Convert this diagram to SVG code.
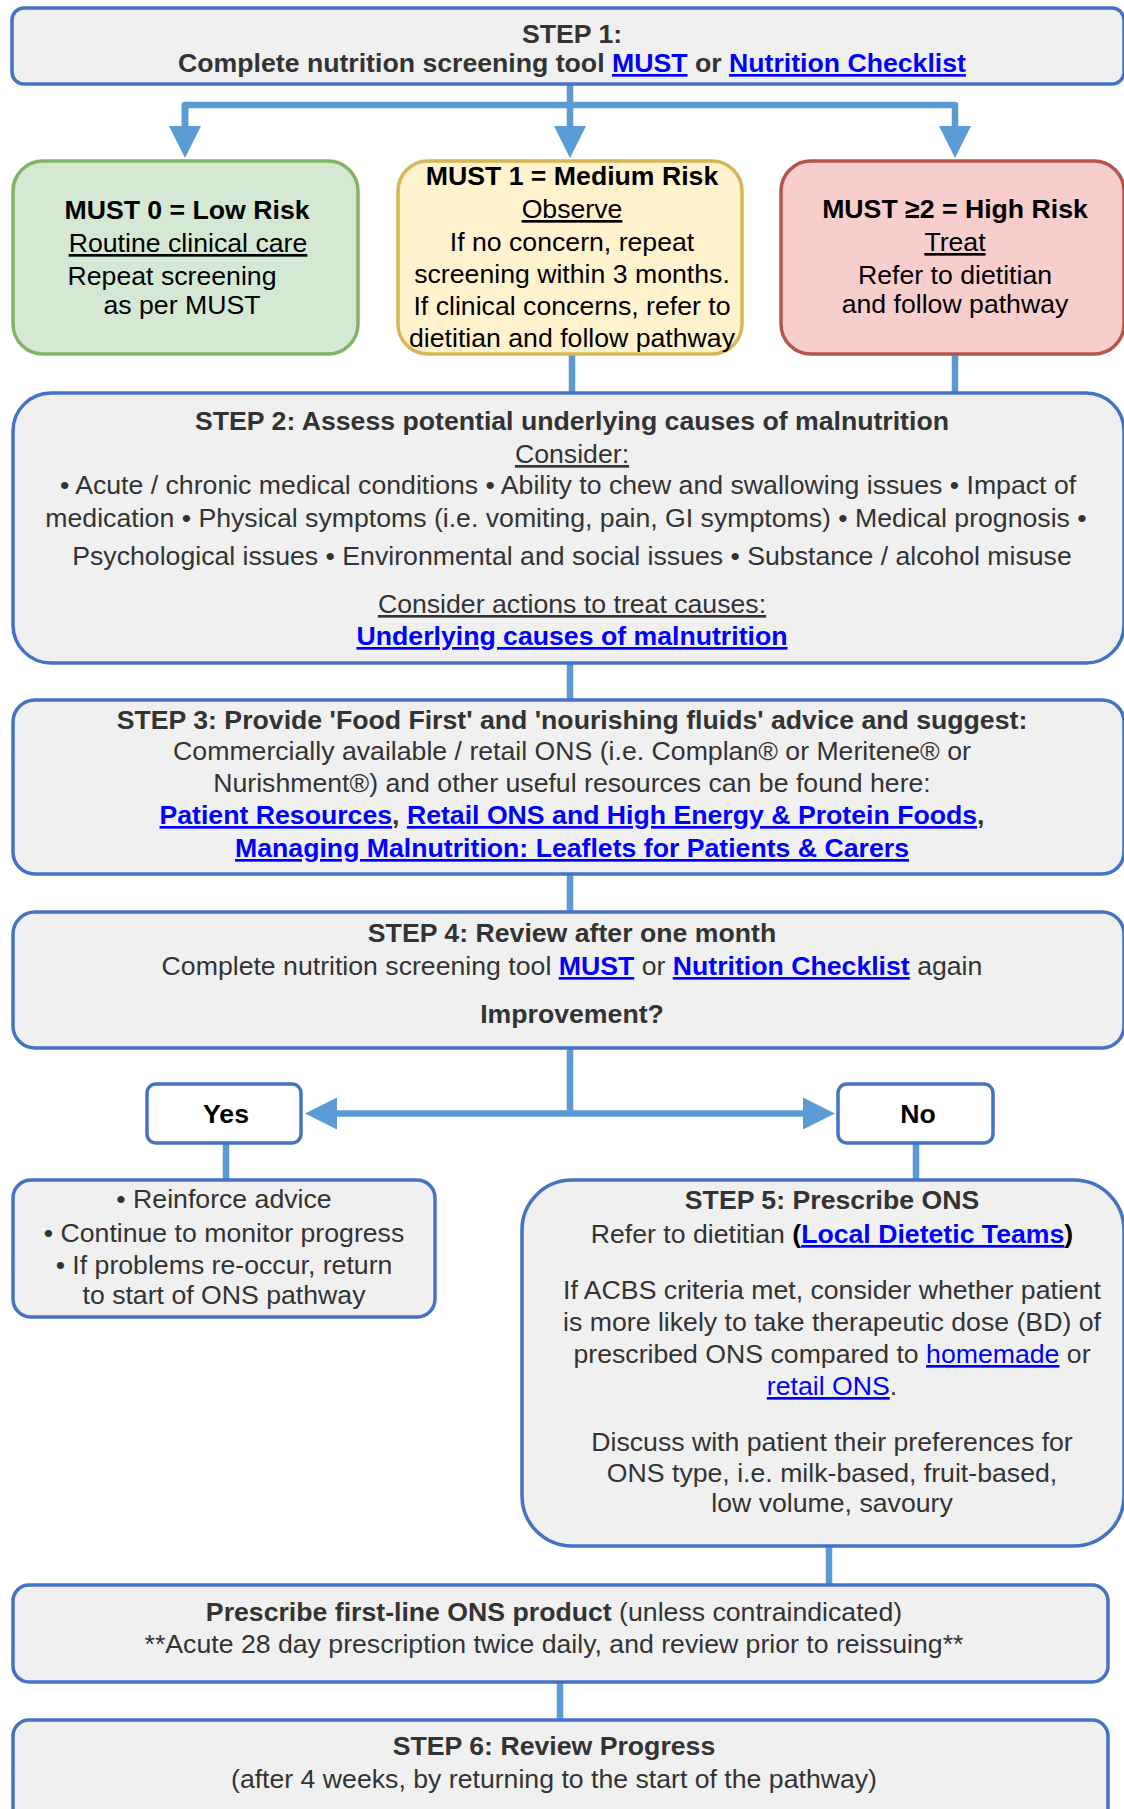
<svg xmlns="http://www.w3.org/2000/svg" width="1124" height="1809" viewBox="0 0 1124 1809">
<defs>
<style>
text{font-family:"Liberation Sans",Arial,Helvetica,sans-serif;font-size:26.67px;fill:#333333;text-anchor:middle}
.k{fill:#000000}
.b{font-weight:bold}
.u{text-decoration:underline}
.lk{fill:#0000FF;text-decoration:underline}
.box{fill:#F0F0F0;stroke:#4472C4;stroke-width:3.5}
.wbox{fill:#FFFFFF;stroke:#4472C4;stroke-width:3.5}
.grn{fill:#D5E8D4;stroke:#82B366;stroke-width:3.5}
.yel{fill:#FFF2CC;stroke:#D6B656;stroke-width:3.5}
.red{fill:#F8CECC;stroke:#B85450;stroke-width:3.5}
.c{fill:none;stroke:#5B9BD5;stroke-width:6.5;stroke-linejoin:round}
</style>
<marker id="arr" markerUnits="userSpaceOnUse" viewBox="0 0 32 32" markerWidth="32" markerHeight="32" refX="0" refY="16" orient="auto">
<path d="M0,0 L32,16 L0,32 z" fill="#5B9BD5"/>
</marker>
</defs>

<g id="connectors">
<path class="c" d="M570 84 V105"/>
<path class="c" d="M185 126 V105 H955 V126" marker-end="url(#arr)"/>
<path class="c" d="M185 105 V126" marker-end="url(#arr)"/>
<path class="c" d="M570 105 V126" marker-end="url(#arr)"/>
<path class="c" d="M572 354 V393"/>
<path class="c" d="M955 354 V393"/>
<path class="c" d="M570 663 V700"/>
<path class="c" d="M570 874 V912"/>
<path class="c" d="M570 1048 V1113.5"/>
<path class="c" d="M570 1113.5 H337" marker-end="url(#arr)"/>
<path class="c" d="M570 1113.5 H803" marker-end="url(#arr)"/>
<path class="c" d="M226 1143 V1180"/>
<path class="c" d="M916 1143 V1180"/>
<path class="c" d="M829 1546 V1585"/>
<path class="c" d="M560 1682 V1720"/>
</g>

<g id="step1">
<rect class="box" x="12" y="8" width="1112" height="76" rx="12"/>
<text class="b" x="572" y="43">STEP 1:</text>
<text class="b" x="572" y="72">Complete nutrition screening tool <tspan class="lk">MUST</tspan> or <tspan class="lk">Nutrition Checklist</tspan></text>
</g>

<g id="low-risk">
<rect class="grn" x="13" y="161" width="345" height="193" rx="30"/>
<text class="k b" x="187" y="219">MUST 0 = Low Risk</text>
<text class="k u" x="188" y="252">Routine clinical care</text>
<text class="k" x="172" y="285">Repeat screening</text>
<text class="k" x="182" y="314">as per MUST</text>
</g>

<g id="medium-risk">
<rect class="yel" x="398" y="161" width="344" height="193" rx="30"/>
<text class="k b" x="572" y="185">MUST 1 = Medium Risk</text>
<text class="k u" x="572" y="218">Observe</text>
<text class="k" x="572" y="251">If no concern, repeat</text>
<text class="k" x="572" y="283">screening within 3 months.</text>
<text class="k" x="572" y="315">If clinical concerns, refer to</text>
<text class="k" x="572" y="347">dietitian and follow pathway</text>
</g>

<g id="high-risk">
<rect class="red" x="781" y="161" width="343" height="193" rx="30"/>
<text class="k b" x="955" y="218">MUST ≥2 = High Risk</text>
<text class="k u" x="955" y="251">Treat</text>
<text class="k" x="955" y="284">Refer to dietitian</text>
<text class="k" x="955" y="313">and follow pathway</text>
</g>

<g id="step2">
<rect class="box" x="13" y="393" width="1111" height="270" rx="38"/>
<text class="b" x="572" y="430">STEP 2: Assess potential underlying causes of malnutrition</text>
<text class="u" x="572" y="463">Consider:</text>
<text x="568" y="494">• Acute / chronic medical conditions • Ability to chew and swallowing issues • Impact of</text>
<text x="566" y="527">medication • Physical symptoms (i.e. vomiting, pain, GI symptoms) • Medical prognosis •</text>
<text x="572" y="565">Psychological issues • Environmental and social issues • Substance / alcohol misuse</text>
<text class="u" x="572" y="613">Consider actions to treat causes:</text>
<text class="b lk" x="572" y="645">Underlying causes of malnutrition</text>
</g>

<g id="step3">
<rect class="box" x="13" y="700" width="1111" height="174" rx="22"/>
<text class="b" x="572" y="729">STEP 3: Provide 'Food First' and 'nourishing fluids' advice and suggest:</text>
<text x="572" y="760">Commercially available / retail ONS (i.e. Complan® or Meritene® or</text>
<text x="572" y="792">Nurishment®) and other useful resources can be found here:</text>
<text class="b" x="572" y="824"><tspan class="lk">Patient Resources</tspan>, <tspan class="lk">Retail ONS and High Energy &amp; Protein Foods</tspan>,</text>
<text class="b lk" x="572" y="857">Managing Malnutrition: Leaflets for Patients &amp; Carers</text>
</g>

<g id="step4">
<rect class="box" x="13" y="912" width="1111" height="136" rx="22"/>
<text class="b" x="572" y="942">STEP 4: Review after one month</text>
<text x="572" y="975">Complete nutrition screening tool <tspan class="b lk">MUST</tspan> or <tspan class="b lk">Nutrition Checklist</tspan> again</text>
<text class="b" x="572" y="1023">Improvement?</text>
</g>

<g id="yes">
<rect class="wbox" x="147" y="1084" width="154" height="59" rx="9"/>
<text class="k b" x="226" y="1123">Yes</text>
</g>

<g id="no">
<rect class="wbox" x="838" y="1084" width="155" height="59" rx="9"/>
<text class="k b" x="918" y="1123">No</text>
</g>

<g id="continue">
<rect class="box" x="13" y="1180" width="422" height="137" rx="18"/>
<text x="224" y="1208">• Reinforce advice</text>
<text x="224" y="1242">• Continue to monitor progress</text>
<text x="224" y="1274">• If problems re-occur, return</text>
<text x="224" y="1304">to start of ONS pathway</text>
</g>

<g id="step5">
<rect class="box" x="522" y="1180" width="602" height="366" rx="50"/>
<text class="b" x="832" y="1209">STEP 5: Prescribe ONS</text>
<text x="832" y="1243">Refer to dietitian <tspan class="b k">(</tspan><tspan class="b lk">Local Dietetic Teams</tspan><tspan class="b k">)</tspan></text>
<text x="832" y="1299">If ACBS criteria met, consider whether patient</text>
<text x="832" y="1331">is more likely to take therapeutic dose (BD) of</text>
<text x="832" y="1363">prescribed ONS compared to <tspan class="lk">homemade</tspan> or</text>
<text x="832" y="1395"><tspan class="lk">retail ONS</tspan>.</text>
<text x="832" y="1451">Discuss with patient their preferences for</text>
<text x="832" y="1482">ONS type, i.e. milk-based, fruit-based,</text>
<text x="832" y="1512">low volume, savoury</text>
</g>

<g id="prescribe">
<rect class="box" x="13" y="1585" width="1095" height="97" rx="16"/>
<text x="554" y="1621"><tspan class="b">Prescribe first-line ONS product</tspan> (unless contraindicated)</text>
<text x="554" y="1653">**Acute 28 day prescription twice daily, and review prior to reissuing**</text>
</g>

<g id="step6">
<rect class="box" x="13" y="1720" width="1095" height="110" rx="16"/>
<text class="b" x="554" y="1755">STEP 6: Review Progress</text>
<text x="554" y="1788">(after 4 weeks, by returning to the start of the pathway)</text>
</g>
</svg>
